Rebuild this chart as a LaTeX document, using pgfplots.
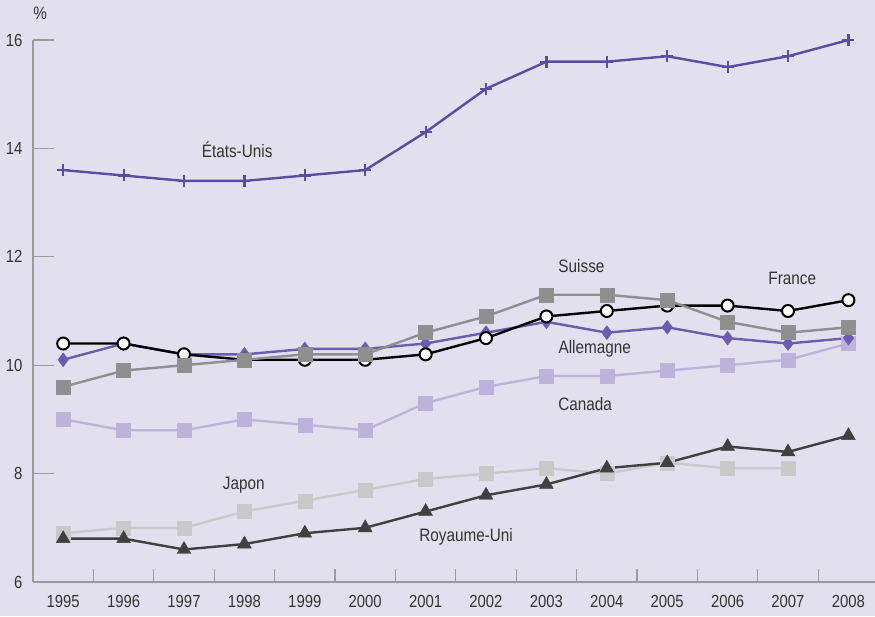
\documentclass[border=0pt]{standalone}
\usepackage{pgfplots}
\pgfplotsset{compat=1.18}
\usepackage{fontspec}
\setmainfont{Liberation Sans}[FakeStretch=0.85]
\definecolor{bgcol}{HTML}{E2E0EE}
\definecolor{axgray}{HTML}{9A9A9A}
\definecolor{txt}{HTML}{333333}
\definecolor{usc}{HTML}{5B4CA3}
\definecolor{dec}{HTML}{6C5CB0}
\definecolor{chc}{HTML}{8F8F8F}
\definecolor{cac}{HTML}{BCB3DB}
\definecolor{jpc}{HTML}{C9C9C9}
\definecolor{ukc}{HTML}{404040}
\begin{document}
\begin{tikzpicture}[x=1pt,y=1pt]
\fill[bgcol] (0,0) rectangle (875,616);
\path[use as bounding box] (0,0) rectangle (875,616);
\begin{axis}[
  at={(33pt,34pt)}, anchor=south west,
  scale only axis, width=842pt, height=542pt,
  xmin=1994.5, xmax=2008.44, ymin=6, ymax=16,
  clip=false,
  axis x line=bottom, axis y line=left,
  axis line style={draw=axgray, line width=1.2pt, -},
  xtick={1995,...,2008},
  xticklabel style={/pgf/number format/1000 sep={}, yshift=-10pt},
  xtick style={draw=none},
  extra x ticks={1995.5,1996.5,...,2007.5},
  extra x tick labels={},
  extra x tick style={xtick style={draw=axgray, line width=1.2pt, /pgfplots/major tick length=13pt}},
  ytick={6,8,...,16},
  ytick style={draw=axgray, line width=1.2pt, /pgfplots/major tick length=21pt},
  tick align=inside,
  yticklabel style={xshift=-7pt},
  /pgf/number format/assume math mode=true,
  tick label style={font=\fontsize{17.5}{19}\selectfont, text=txt},
  every axis plot/.append style={line width=2.4pt},
]
% Japon
\addplot[color=jpc, mark=square*, mark size=7pt, mark options={line width=0.4pt, fill=jpc}]
  coordinates {(1995,6.9)(1996,7.0)(1997,7.0)(1998,7.3)(1999,7.5)(2000,7.7)(2001,7.9)(2002,8.0)(2003,8.1)(2004,8.0)(2005,8.2)(2006,8.1)(2007,8.1)};
% Royaume-Uni
\addplot[color=ukc, mark=triangle*, mark size=8pt, mark options={line width=0.4pt, fill=ukc}]
  coordinates {(1995,6.8)(1996,6.8)(1997,6.6)(1998,6.7)(1999,6.9)(2000,7.0)(2001,7.3)(2002,7.6)(2003,7.8)(2004,8.1)(2005,8.2)(2006,8.5)(2007,8.4)(2008,8.7)};
% Canada
\addplot[color=cac, mark=square*, mark size=7pt, mark options={line width=0.4pt, fill=cac}]
  coordinates {(1995,9.0)(1996,8.8)(1997,8.8)(1998,9.0)(1999,8.9)(2000,8.8)(2001,9.3)(2002,9.6)(2003,9.8)(2004,9.8)(2005,9.9)(2006,10.0)(2007,10.1)(2008,10.4)};
% Allemagne
\addplot[color=dec, mark=diamond*, mark size=7pt, mark options={line width=0.4pt, fill=dec}]
  coordinates {(1995,10.1)(1996,10.4)(1997,10.2)(1998,10.2)(1999,10.3)(2000,10.3)(2001,10.4)(2002,10.6)(2003,10.8)(2004,10.6)(2005,10.7)(2006,10.5)(2007,10.4)(2008,10.5)};
% France
\addplot[color=black, mark=*, mark size=6pt, mark options={line width=2pt, fill=white}]
  coordinates {(1995,10.4)(1996,10.4)(1997,10.2)(1998,10.1)(1999,10.1)(2000,10.1)(2001,10.2)(2002,10.5)(2003,10.9)(2004,11.0)(2005,11.1)(2006,11.1)(2007,11.0)(2008,11.2)};
% Suisse
\addplot[color=chc, mark=square*, mark size=7pt, mark options={line width=0.4pt, fill=chc}]
  coordinates {(1995,9.6)(1996,9.9)(1997,10.0)(1998,10.1)(1999,10.2)(2000,10.2)(2001,10.6)(2002,10.9)(2003,11.3)(2004,11.3)(2005,11.2)(2006,10.8)(2007,10.6)(2008,10.7)};
% Etats-Unis
\addplot[color=usc, mark=+, mark size=6pt, mark options={line width=2.2pt}]
  coordinates {(1995,13.6)(1996,13.5)(1997,13.4)(1998,13.4)(1999,13.5)(2000,13.6)(2001,14.3)(2002,15.1)(2003,15.6)(2004,15.6)(2005,15.7)(2006,15.5)(2007,15.7)(2008,16.0)};
\begin{scope}[every node/.style={font=\fontsize{18}{20}\selectfont, text=txt}]
\node at (axis cs:1997.88,13.97) {États-Unis};
\node at (axis cs:2003.58,11.83) {Suisse};
\node at (axis cs:2007.07,11.61) {France};
\node at (axis cs:2003.8,10.30) {Allemagne};
\node at (axis cs:2003.64,9.28) {Canada};
\node at (axis cs:1997.99,7.79) {Japon};
\node at (axis cs:2001.67,6.83) {Royaume-Uni};
\node at (axis cs:1994.62,16.5) {\%};
\end{scope}
\end{axis}
\end{tikzpicture}
\end{document}
